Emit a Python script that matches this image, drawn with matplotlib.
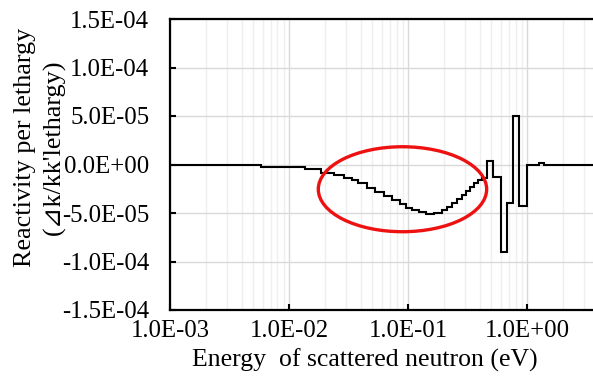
import numpy as np
import matplotlib
matplotlib.use("Agg")
import matplotlib.pyplot as plt
from matplotlib.patches import Ellipse
from matplotlib.ticker import FuncFormatter, LogLocator, FixedLocator

# group boundaries of scattered neutron energy (eV)
energy_edges = [1.0e-3, 5.87e-3, 1.37e-2, 1.84e-2, 2.41e-2, 2.92e-2, 3.35e-2,
                3.83e-2, 4.48e-2, 5.32e-2, 6.33e-2, 7.39e-2, 8.63e-2, 9.68e-2,
                0.1087, 0.1245, 0.1426, 0.1663, 0.194, 0.214, 0.2355, 0.2594,
                0.2857, 0.3083, 0.3334, 0.3597, 0.389, 0.4198, 0.4624, 0.52,
                0.607, 0.681, 0.764, 0.859, 1.0, 1.26, 1.39, 3.58]
# reactivity per lethargy in each group
reactivity = [0.0, -2.5e-6, -5.0e-6, -8.7e-6, -1.13e-5, -1.38e-5, -1.64e-5,
              -1.95e-5, -2.41e-5, -2.87e-5, -3.28e-5, -3.69e-5, -4.10e-5,
              -4.46e-5, -4.71e-5, -4.92e-5, -5.07e-5, -4.97e-5, -4.71e-5,
              -4.35e-5, -4.00e-5, -3.59e-5, -3.18e-5, -2.72e-5, -2.31e-5,
              -1.95e-5, -1.64e-5, -1.43e-5, 3.6e-6, -1.31e-5, -9.04e-5,
              -3.98e-5, 5.0e-5, -4.32e-5, 0.0, 1.8e-6, 0.0]

x_ticks = [1e-3, 1e-2, 1e-1, 1e0]
y_ticks = [-1.5e-4, -1.0e-4, -5.0e-5, 0.0, 5.0e-5, 1.0e-4, 1.5e-4]

plt.rcParams['font.family'] = ['Liberation Serif', 'DejaVu Serif', 'DejaVu Sans']

fig = plt.figure(figsize=(5.93, 3.85), dpi=100)
ax = fig.add_axes([170 / 593, 1 - 310 / 385, 423 / 593, 291 / 385])

ax.stairs(reactivity, energy_edges, baseline=None, color='black', lw=1.5, zorder=3)

ax.set_xscale('log')
ax.set_xlim(1e-3, 3.58)
ax.set_ylim(-1.5e-4, 1.5e-4)
ax.xaxis.set_major_locator(FixedLocator(x_ticks))
ax.xaxis.set_minor_locator(LogLocator(base=10, subs=np.arange(2, 10)))
ax.yaxis.set_major_locator(FixedLocator(y_ticks))
fmt = FuncFormatter(lambda v, p: '{:.1E}'.format(v))
ax.xaxis.set_major_formatter(fmt)
ax.yaxis.set_major_formatter(fmt)
ax.xaxis.set_minor_formatter(FuncFormatter(lambda v, p: ''))

ax.grid(True, which='major', color='#d9d9d9', lw=1.0, zorder=0)
ax.grid(True, which='minor', axis='x', color='#efefef', lw=1.0, zorder=0)
ax.set_axisbelow(True)

ax.tick_params(which='major', direction='in', length=4, width=1.5, labelsize=17.8, color='black')
ax.tick_params(axis='y', pad=15)
ax.tick_params(axis='x', pad=7)
ax.tick_params(which='minor', length=0)

for s in ['left', 'bottom', 'top']:
    ax.spines[s].set_linewidth(1.6)
    ax.spines[s].set_color('black')
ax.spines['right'].set_visible(False)

# highlighted region
ax.add_patch(Ellipse((0.5496, 0.415), 0.398, 0.292, transform=ax.transAxes,
                     fill=False, edgecolor='#ee1111', lw=2.4, zorder=4, clip_on=False))

fig.text(365 / 593, 1 - 360 / 385, 'Energy  of scattered neutron (eV)', ha='center', va='center',
         fontsize=18.5)
fig.text(40 / 593, 1 - 147 / 385, "Reactivity per lethargy\n(\u22bfk/kk'lethargy)", rotation=90,
         ha='center', va='center', fontsize=18.8, linespacing=1.35, multialignment='center')

fig.savefig('out.png', dpi=100)
